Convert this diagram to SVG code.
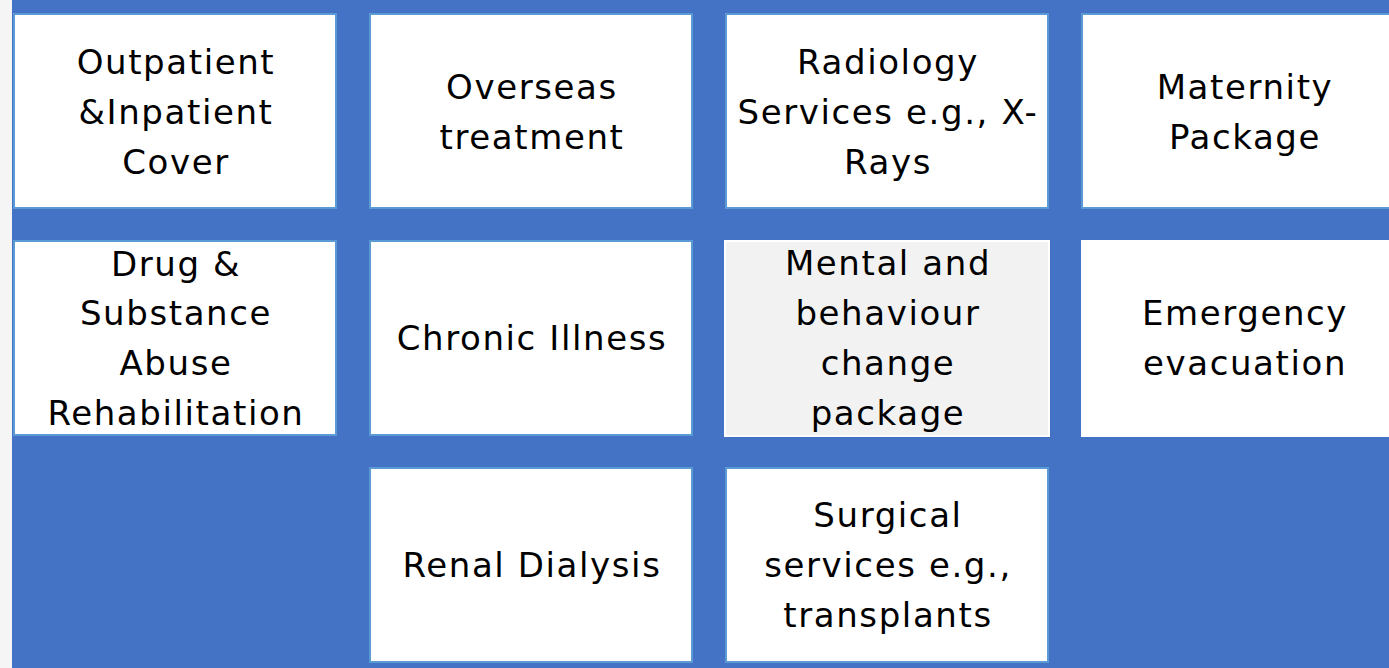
<svg xmlns="http://www.w3.org/2000/svg" width="1389" height="668" viewBox="0 0 1389 668">
<style>
.bg{fill:#4472C4}
.box{fill:#ffffff;stroke:#5B9BD5;stroke-width:2}
.gray{fill:#F2F2F2;stroke:#ffffff;stroke-width:2}
.plain{fill:#ffffff}
text{font-family:"DejaVu Sans","Open Sans",sans-serif;font-size:34px;letter-spacing:1.6px;fill:#000000;text-anchor:middle}
</style>
<rect x="0" y="0" width="1389" height="668" fill="#F5F5F5"/>
<rect class="bg" x="12" y="0" width="1377" height="668"/>
<g id="n1"><rect class="box" x="14" y="14" width="322" height="194"/><text x="176" y="74">Outpatient</text><text x="176" y="124">&amp;Inpatient</text><text x="176" y="174">Cover</text></g>
<g id="n2"><rect class="box" x="370" y="14" width="322" height="194"/><text x="532" y="99">Overseas</text><text x="532" y="149">treatment</text></g>
<g id="n3"><rect class="box" x="726" y="14" width="322" height="194"/><text x="888" y="74">Radiology</text><text x="888" y="124">Services e.g., X-</text><text x="888" y="174">Rays</text></g>
<g id="n4"><rect class="box" x="1082" y="14" width="322" height="194"/><text x="1245" y="99">Maternity</text><text x="1245" y="149">Package</text></g>
<g id="n5"><rect class="box" x="14" y="241" width="322" height="194"/><text x="176" y="276">Drug &amp;</text><text x="176" y="325">Substance</text><text x="176" y="375">Abuse</text><text x="176" y="425">Rehabilitation</text></g>
<g id="n6"><rect class="box" x="370" y="241" width="322" height="194"/><text x="532" y="350">Chronic Illness</text></g>
<g id="n7"><rect class="gray" x="725" y="241" width="324" height="195"/><text x="888" y="275">Mental and</text><text x="888" y="325">behaviour</text><text x="888" y="375">change</text><text x="888" y="425">package</text></g>
<g id="n8"><rect class="plain" x="1081" y="240" width="330" height="197"/><text x="1245" y="325">Emergency</text><text x="1245" y="375">evacuation</text></g>
<g id="n9"><rect class="box" x="370" y="468" width="322" height="194"/><text x="532" y="577">Renal Dialysis</text></g>
<g id="n10"><rect class="box" x="726" y="468" width="322" height="194"/><text x="888" y="527">Surgical</text><text x="888" y="577">services e.g.,</text><text x="888" y="627">transplants</text></g>
<g id="connectors"></g>
</svg>
